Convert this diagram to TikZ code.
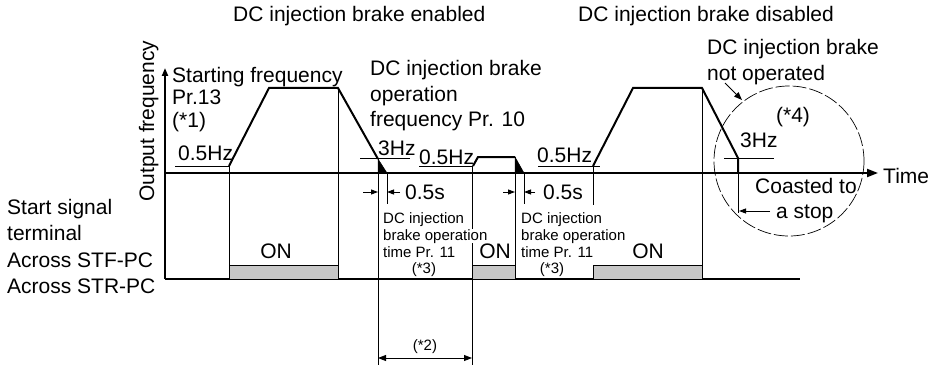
\documentclass[tikz,border=0pt]{standalone}
\usepackage{fontspec}
\setmainfont{Liberation Sans}
\usetikzlibrary{arrows.meta}
\begin{document}
\begin{tikzpicture}[x=1pt,y=-1pt,
  wave/.style={line width=2pt, line join=miter},
  axisline/.style={line width=2pt},
  thinline/.style={line width=0.9pt},
  lbl/.style={inner sep=0pt, anchor=base west, font=\fontsize{21}{26}\selectfont},
  sml/.style={inner sep=0pt, anchor=base west, font=\fontsize{15}{17}\selectfont},
  onbar/.style={fill=black!22, draw=black, line width=0.6pt},
  dimarrow/.style={thinline, -{Triangle[length=7pt,width=5pt]}},
  tri/.style={fill=black, draw=black, line width=0.5pt}]
\useasboundingbox (0,0) rectangle (943,369);

% axes
\coordinate (yb) at (165,279);
\coordinate (yt) at (165,68);
\coordinate (o) at (165,173);
\coordinate (te) at (878,173);
\coordinate (be) at (800,279);
\draw[axisline, -{Triangle[length=8pt,width=6pt]}] (yb) -- (yt);
\draw[axisline, -{Triangle[length=11pt,width=8pt]}] (o) -- (te);
\draw[axisline] (yb) -- (be);

% ON bars
\draw[onbar] (229,265) rectangle (338,279);
\draw[onbar] (472,265) rectangle (515,279);
\draw[onbar] (593,265) rectangle (702,279);

% waveform 1
\coordinate (a1) at (229,166);
\coordinate (a2) at (269,88);
\coordinate (a3) at (338,88);
\coordinate (a4) at (378,159);
\draw[wave] (a1) -- (a2) -- (a3) -- (a4);
\draw[tri] (378,159) -- (387,173) -- (378,173) -- cycle;
\draw[thinline] (175,166) -- (a1) -- (229,265);
\draw[thinline] (a3) -- (338,279);
\draw[thinline] (360,158) -- (410,158);
\draw[thinline] (a4) -- (378,365);
\draw[thinline] (387,173) -- (387,204);
\draw[dimarrow] (363,192) -- (378,192);
\draw[dimarrow] (400,192) -- (387,192);

% waveform 2
\coordinate (b1) at (473,166);
\coordinate (b2) at (478,157);
\coordinate (b3) at (515,157);
\draw[wave] (b1) -- (b2) -- (b3);
\draw[tri] (515,157) -- (524,173) -- (515,173) -- cycle;
\draw[thinline] (419,166) -- (472,166) -- (472,365);
\draw[thinline] (b3) -- (515,279);
\draw[thinline] (524,173) -- (524,204);
\draw[dimarrow] (503,192) -- (515,192);
\draw[dimarrow] (535,192) -- (524,192);

% waveform 3
\coordinate (c1) at (593,166);
\coordinate (c2) at (633,88);
\coordinate (c3) at (702,88);
\coordinate (c4) at (738,158);
\coordinate (c5) at (738,173);
\draw[wave] (c1) -- (c2) -- (c3) -- (c4) -- (c5);
\draw[thinline] (538,166) -- (600,166);
\draw[thinline] (c1) -- (593,205);
\draw[thinline] (c3) -- (702,279);
\draw[thinline] (724,158) -- (774,158);
\draw[thinline] (c5) -- (738,213);
\draw[dimarrow] (770,211) -- (739,211);

% dashed circle
\draw[line width=0.7pt, dash pattern=on 14pt off 3pt] (789,161) circle[radius=75];
\draw[thinline, -{Triangle[length=8pt,width=6pt]}] (725,83) -- (742,100);

% (*2) dimension
\draw[thinline, {Triangle[length=8pt,width=6pt]}-{Triangle[length=8pt,width=6pt]}] (378,358) -- (472,358);

% texts
\node[lbl] (t1) at (233,22) {DC injection brake enabled};
\node[lbl] (t2) at (578,22) {DC injection brake disabled};
\node[lbl, rotate=90] (yl) at (154,202) {Output frequency};
\node[lbl] (sf1) at (172,82) {Starting frequency};
\node[lbl] (sf2) at (172,105) {Pr.13};
\node[lbl] (sf3) at (172,128) {(*1)};
\node[lbl] (hz1) at (178,160) {0.5Hz};
\node[lbl] (df1) at (370,76) {DC injection brake};
\node[lbl] (df2) at (370,101) {operation};
\node[lbl] (df3) at (370,126) {frequency Pr. 10};
\node[lbl] (hz2) at (378,155) {3Hz};
\node[lbl] (hz3) at (419,164) {0.5Hz};
\node[lbl] (hz4) at (537,162) {0.5Hz};
\node[lbl] (s1) at (405,199) {0.5s};
\node[lbl] (s2) at (543,199) {0.5s};
\node[sml] (d1a) at (383,223) {DC injection};
\node[sml, fill=white] (d1b) at (383,240) {brake operation};
\node[sml] (d1c) at (383,257) {time Pr. 11};
\node[sml, anchor=base] (d1d) at (424,273) {(*3)};
\node[sml, fill=white] (d2a) at (521,223) {DC injection};
\node[sml, fill=white] (d2b) at (521,240) {brake operation};
\node[sml] (d2c) at (521,257) {time Pr. 11};
\node[sml, anchor=base] (d2d) at (552,273) {(*3)};
\node[lbl, anchor=base] (on1) at (276,258) {ON};
\node[lbl, anchor=base] (on2) at (495,258) {ON};
\node[lbl, anchor=base] (on3) at (648,258) {ON};
\node[sml, anchor=base] (st2) at (425,350) {(*2)};
\node[lbl] (no1) at (707,55) {DC injection brake};
\node[lbl] (no2) at (707,81) {not operated};
\node[lbl, anchor=base] (st4) at (793,122) {(*4)};
\node[lbl] (hz5) at (740,147) {3Hz};
\node[lbl] (co1) at (755,193) {Coasted to};
\node[lbl] (co2) at (776,218) {a stop};
\node[lbl] (tm) at (883,183) {Time};
\node[lbl] (l1) at (7,214) {Start signal};
\node[lbl] (l2) at (7,240) {terminal};
\node[lbl] (l3) at (7,267) {Across STF-PC};
\node[lbl] (l4) at (7,293) {Across STR-PC};
\end{tikzpicture}
\end{document}
